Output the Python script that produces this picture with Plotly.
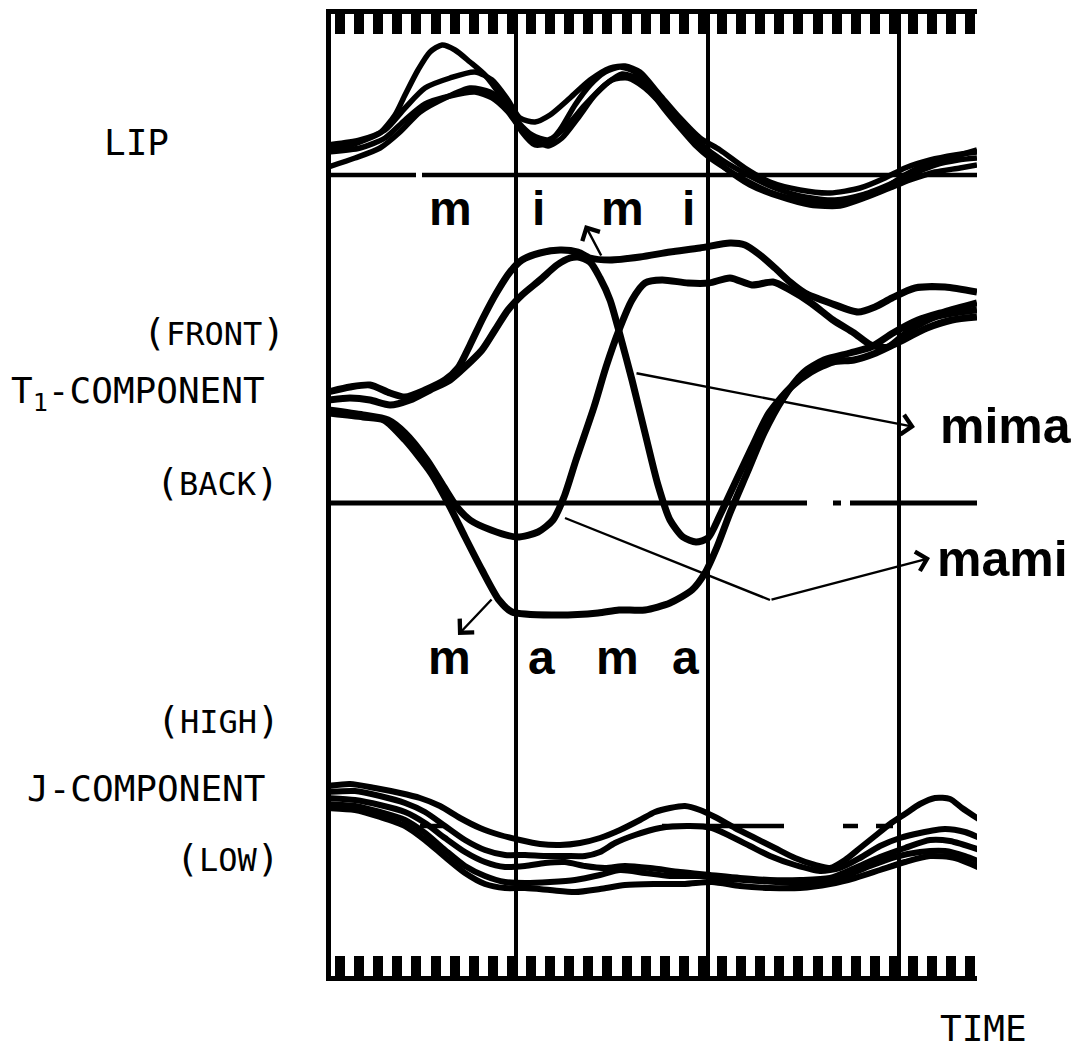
import plotly.graph_objects as go

# ---------------- data (time and displacement in arbitrary units; 0 = reference line, + = up) ----------------
# LIP trajectories (4 repetitions)
LIP1_T = [0, 17, 37, 52, 67, 77, 90, 102, 114, 127, 142, 157, 172, 184, 194, 207, 220, 232, 247, 262, 277, 292, 307, 322, 337, 352, 367, 382, 397, 417, 442, 472, 502, 532, 557, 577, 597, 622, 649]
LIP1_V = [25, 28, 35, 42, 60, 80, 105, 123, 130, 125, 113, 100, 80, 60, 43, 30, 32, 45, 70, 90, 103, 108, 103, 85, 65, 47, 30, 17, 7, -5, -17, -25, -28, -23, -13, 0, 10, 17, 25]
LIP2_T = [0, 32, 57, 77, 97, 122, 147, 164, 180, 192, 207, 222, 242, 262, 282, 297, 312, 332, 352, 372, 392, 417, 442, 472, 502, 532, 557, 577, 602, 627, 649]
LIP2_V = [30, 35, 45, 67, 87, 97, 103, 95, 75, 57, 53, 60, 77, 95, 107, 109, 103, 80, 57, 37, 25, 7, -7, -15, -18, -13, -3, 7, 15, 20, 23]
LIP3_T = [0, 32, 57, 77, 97, 122, 147, 164, 180, 192, 207, 220, 234, 250, 267, 284, 300, 317, 337, 357, 377, 397, 422, 452, 482, 512, 537, 562, 582, 607, 632, 649]
LIP3_V = [23, 27, 37, 55, 71, 79, 83, 77, 63, 47, 35, 29, 37, 57, 80, 95, 97, 87, 67, 45, 25, 7, -10, -22, -30, -31, -23, -13, -5, 3, 7, 10]
LIP4_T = [0, 27, 52, 72, 92, 117, 142, 162, 177, 190, 204, 220, 237, 257, 277, 294, 312, 332, 354, 374, 394, 420, 447, 477, 507, 534, 560, 582, 607, 630, 649]
LIP4_V = [8, 17, 27, 43, 63, 77, 87, 83, 70, 53, 40, 35, 47, 70, 90, 101, 95, 75, 50, 30, 15, 0, -13, -22, -25, -20, -10, 0, 10, 15, 17]

# T1-component trajectories (front = up, back = down)
MIMI_T = [0, 22, 42, 62, 77, 97, 117, 130, 142, 155, 169, 182, 194, 212, 232, 250, 262, 282, 312, 342, 372, 402, 417, 432, 447, 462, 477, 502, 530, 547, 564, 587, 617, 649]
MIMI_V = [111, 116, 118, 110, 106, 113, 123, 135, 158, 185, 211, 231, 243, 250, 253, 251, 245, 243, 246, 251, 255, 260, 258, 248, 235, 221, 210, 200, 191, 196, 205, 215, 216, 211]
MIMA_T = [0, 22, 42, 62, 82, 102, 122, 137, 154, 167, 180, 194, 212, 229, 242, 250, 262, 272, 282, 292, 304, 317, 330, 342, 355, 368, 380, 392, 407, 424, 441, 462, 483, 505, 526, 548, 569, 599, 624, 649]
MIMA_V = [103, 105, 103, 98, 103, 113, 123, 136, 153, 173, 193, 208, 223, 238, 245, 246, 241, 225, 203, 168, 123, 70, 18, -17, -34, -39, -35, -12, 20, 56, 90, 115, 131, 141, 143, 150, 160, 175, 183, 186]
MAMI_T = [0, 35, 60, 77, 99, 116, 129, 142, 163, 189, 210, 225, 236, 248, 266, 278, 291, 304, 317, 334, 360, 381, 402, 424, 445, 462, 483, 505, 526, 543, 560, 582, 607, 633, 649]
MAMI_V = [93, 88, 83, 70, 43, 16, -4, -17, -27, -34, -29, -17, 6, 43, 96, 136, 173, 203, 220, 223, 220, 220, 225, 218, 221, 213, 200, 183, 170, 158, 156, 173, 186, 191, 193]
MAMA_T = [0, 35, 56, 77, 103, 120, 137, 154, 171, 184, 227, 270, 291, 317, 342, 364, 377, 389, 402, 419, 436, 454, 475, 496, 522, 543, 565, 590, 616, 649]
MAMA_V = [90, 86, 83, 63, 30, 0, -34, -67, -97, -109, -112, -110, -107, -107, -100, -87, -70, -44, -10, 30, 70, 103, 130, 143, 150, 156, 170, 183, 191, 200]

# J-component trajectories (high = up)
J1_T = [0, 22, 47, 72, 92, 112, 132, 152, 172, 192, 212, 232, 252, 272, 292, 312, 327, 342, 357, 372, 387, 407, 427, 447, 467, 487, 502, 517, 532, 547, 562, 577, 592, 607, 622, 634, 652]
J1_V = [40, 42, 38, 33, 28, 20, 8, -2, -9, -14, -18, -19, -17, -12, -4, 6, 14, 18, 20, 16, 9, -2, -12, -22, -32, -39, -42, -34, -22, -10, 2, 12, 22, 28, 27, 18, 6]
J2_T = [0, 27, 52, 77, 97, 117, 137, 157, 177, 197, 217, 237, 257, 272, 287, 307, 332, 362, 384, 402, 422, 442, 467, 492, 512, 532, 552, 572, 592, 617, 637, 652]
J2_V = [34, 35, 30, 23, 14, 0, -14, -24, -29, -29, -30, -30, -30, -26, -17, -9, -2, 0, -2, -10, -20, -30, -39, -45, -42, -32, -20, -12, -7, -3, -6, -12]
J3_T = [0, 27, 52, 77, 97, 117, 137, 157, 177, 197, 217, 237, 257, 277, 297, 322, 352, 382, 412, 442, 472, 502, 527, 552, 577, 602, 622, 652]
J3_V = [28, 26, 21, 14, 3, -12, -26, -36, -41, -40, -37, -36, -40, -42, -40, -42, -46, -49, -52, -54, -54, -52, -42, -31, -22, -14, -15, -24]
J4_T = [0, 27, 52, 77, 97, 117, 137, 157, 177, 197, 222, 247, 272, 292, 317, 342, 372, 402, 432, 462, 492, 517, 542, 567, 592, 617, 637, 652]
J4_V = [22, 20, 14, 6, -7, -24, -40, -50, -56, -57, -56, -54, -49, -44, -47, -50, -50, -53, -55, -57, -56, -50, -40, -31, -26, -25, -30, -36]
J5_T = [0, 27, 52, 77, 97, 117, 137, 157, 177, 197, 222, 247, 272, 297, 327, 357, 384, 412, 442, 472, 502, 527, 552, 577, 602, 627, 652]
J5_V = [18, 16, 9, 0, -14, -31, -47, -58, -62, -62, -64, -66, -63, -59, -58, -58, -56, -60, -62, -62, -58, -52, -44, -36, -30, -32, -42]

# reference (zero) lines, drawn in pieces as in the original
LIP_REF_T = [0, 88, None, 94, 649]
T1_REF_T = [0, 479, None, 505, 513, None, 522, 649]
J_REF_T = [92, 117, None, 334, 456, None, 515, 530, None, 548, 565]

# leader line for "mami"
MAMI_LEADER_T = [237, 442]
MAMI_LEADER_V = [-15, -97]

# time grid (major divisions) and timing-mark comb
GRID_T = [188, 380, 571]
COMB_START = 12
COMB_STEP = 19.1

# phoneme labels
LIP_PHONES = ["m", "i", "m", "i"]
LIP_PHONE_T = [122, 210, 294, 360]
T1_PHONES = ["m", "a", "m", "a"]
T1_PHONE_T = [121, 213, 289, 357]

# axis ranges
X_RANGE = [3, 649]
J_RANGE = [-150, 812]
T1_RANGE = [-473, 489]
LIP_RANGE = [-801, 161]

INK = "black"
MONO = "DejaVu Sans Mono, Liberation Mono, monospace"
BOLD = "Liberation Sans, Arial, sans-serif"

fig = go.Figure()


def curve(t, v, yaxis, width):
    fig.add_trace(go.Scatter(
        x=t, y=v, mode="lines", yaxis=yaxis, xaxis="x",
        line=dict(color=INK, width=width, shape="spline", smoothing=0.7),
        hoverinfo="skip", showlegend=False))


def ref_line(t, yaxis, width):
    fig.add_trace(go.Scatter(
        x=t, y=[None if a is None else 0 for a in t], mode="lines", yaxis=yaxis,
        line=dict(color=INK, width=width), connectgaps=False,
        hoverinfo="skip", showlegend=False))


ref_line(LIP_REF_T, "y3", 4.5)
ref_line(T1_REF_T, "y2", 5)
ref_line(J_REF_T, "y", 4.5)

for t, v in [(LIP1_T, LIP1_V), (LIP2_T, LIP2_V), (LIP3_T, LIP3_V), (LIP4_T, LIP4_V)]:
    curve(t, v, "y3", 5.5)

for t, v in [(MIMI_T, MIMI_V), (MIMA_T, MIMA_V), (MAMI_T, MAMI_V), (MAMA_T, MAMA_V)]:
    curve(t, v, "y2", 7)

for t, v in [(J1_T, J1_V), (J2_T, J2_V), (J3_T, J3_V), (J4_T, J4_V), (J5_T, J5_V)]:
    curve(t, v, "y", 6)

fig.add_trace(go.Scatter(x=MAMI_LEADER_T, y=MAMI_LEADER_V, mode="lines", yaxis="y2",
                         line=dict(color=INK, width=2.4), hoverinfo="skip", showlegend=False))

# dummy trace so that the top (comb) axis is drawn
fig.add_trace(go.Scatter(x=[0], y=[0], xaxis="x2", yaxis="y", mode="markers",
                         marker=dict(opacity=0), hoverinfo="skip", showlegend=False))

comb = dict(tickmode="linear", tick0=COMB_START, dtick=COMB_STEP, ticks="inside",
            ticklen=20, tickwidth=10, tickcolor=INK, showgrid=False)

fig.update_layout(
    width=1081, height=1053,
    margin=dict(l=331, r=104, t=14, b=77),
    paper_bgcolor="white", plot_bgcolor="white",
    showlegend=False, hovermode=False,
    xaxis=dict(range=X_RANGE, showline=True, linewidth=5, linecolor=INK,
               tickmode="array", tickvals=GRID_T, ticks="", showticklabels=False,
               showgrid=True, gridcolor=INK, gridwidth=4, zeroline=False, minor=comb),
    xaxis2=dict(overlaying="x", side="top", matches="x", showline=True, linewidth=5,
                linecolor=INK, tickmode="array", tickvals=GRID_T, ticks="",
                showticklabels=False, showgrid=False, zeroline=False, minor=comb),
    yaxis=dict(range=J_RANGE, showline=True, linewidth=5, linecolor=INK,
               showgrid=False, zeroline=False, showticklabels=False, ticks=""),
    yaxis2=dict(overlaying="y", range=T1_RANGE, visible=False),
    yaxis3=dict(overlaying="y", range=LIP_RANGE, visible=False),
)


def xp(x):
    return (x - X_RANGE[0]) / (X_RANGE[1] - X_RANGE[0])


def yp(v, rng):
    return (v - rng[0]) / (rng[1] - rng[0])


ann = []


def label(text, x, y, xanchor="center", size=36, family=MONO, weight="normal",
          xref="paper", yref="paper"):
    ann.append(dict(text=text, x=x, y=y, xref=xref, yref=yref, xanchor=xanchor,
                    yanchor="middle", showarrow=False,
                    font=dict(family=family, size=size, color=INK, weight=weight)))


small = "<span style='font-size:32px'>%s</span>"
label("LIP", xp(-191), yp(33, LIP_RANGE))
label("(" + small % "FRONT" + ")", xp(-41), yp(171, T1_RANGE), xanchor="right", size=38)
label("T<sub>1</sub>-COMPONENT", xp(-61), yp(110, T1_RANGE), xanchor="right")
label("(" + small % "BACK" + ")", xp(-47), yp(21, T1_RANGE), xanchor="right", size=38)
label("(" + small % "HIGH" + ")", xp(-46), yp(106, J_RANGE), xanchor="right", size=38)
label("J-COMPONENT", xp(-61), yp(38, J_RANGE), xanchor="right")
label("(" + small % "LOW" + ")", xp(-46), yp(-32, J_RANGE), xanchor="right", size=38)
label("TIME", xp(655), yp(-202, J_RANGE))

for ch, t in zip(LIP_PHONES, LIP_PHONE_T):
    label(ch, t, -33, size=48, family=BOLD, weight="bold", xref="x", yref="y3")
for ch, t in zip(T1_PHONES, T1_PHONE_T):
    label(ch, t, -154, size=48, family=BOLD, weight="bold", xref="x", yref="y2")
label("mima", xp(610), yp(77, T1_RANGE), xanchor="left", size=50, family=BOLD, weight="bold")
label("mami", xp(607), yp(-56, T1_RANGE), xanchor="left", size=50, family=BOLD, weight="bold")


def arrow(x, y, ax, ay, yref):
    ann.append(dict(x=x, y=y, ax=ax, ay=ay, xref="x", yref=yref, axref="x", ayref=yref,
                    text="", showarrow=True, arrowhead=4, arrowsize=1.6, arrowwidth=2.4,
                    arrowcolor=INK, standoff=0, startstandoff=0))


arrow(257, 278, 274, 246, "y2")      # to "m i m i"
arrow(130, -132, 165, -95, "y2")     # to "m a m a"
arrow(587, 76, 307, 130, "y2")       # to "mima"
arrow(602, -55, 442, -97, "y2")      # to "mami"

fig.update_layout(annotations=ann)

fig.write_html("out.html", config={"displayModeBar": False, "staticPlot": True},
               post_script="document.body.style.margin='0';document.body.style.overflow='hidden';")
